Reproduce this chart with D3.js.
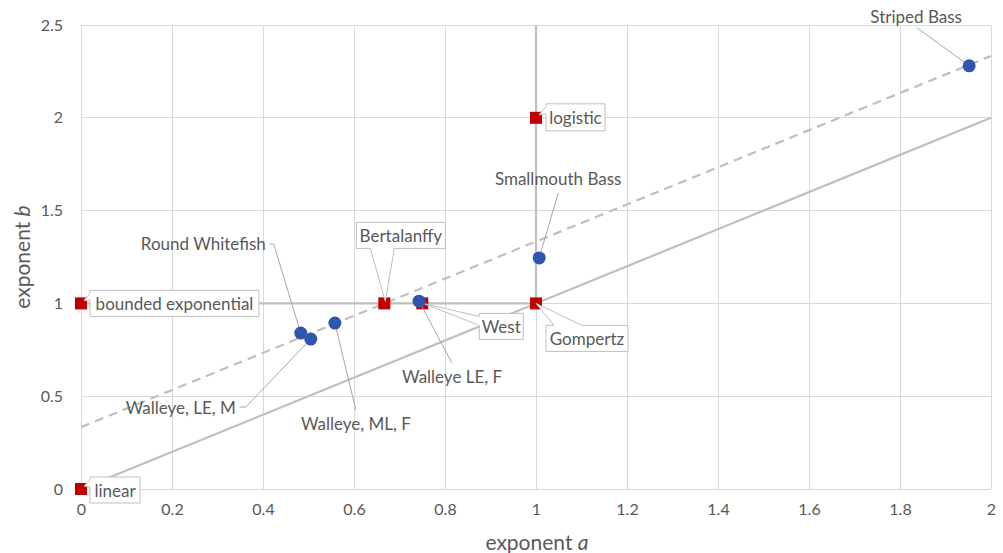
<!DOCTYPE html>
<html><head><meta charset="utf-8">
<script src="https://cdn.jsdelivr.net/npm/d3@7"></script>
<style>body{margin:0;background:#fff}svg{display:block}</style>
</head><body><svg id="c" width="1003" height="553"></svg>
<script>
// ---- data ----
const modelNames = ["linear", "bounded exponential", "Bertalanffy", "West", "Gompertz", "logistic"];
const modelA = [0, 0, 2/3, 0.75, 1, 1];
const modelB = [0, 1, 1, 1, 1, 2];

const fishNames = ["Round Whitefish", "Walleye, LE, M", "Walleye, ML, F", "Walleye LE, F", "Smallmouth Bass", "Striped Bass"];
const fishA = [0.483, 0.505, 0.558, 0.743, 1.007, 1.952];
const fishB = [0.84, 0.808, 0.894, 1.012, 1.245, 2.28];

const xTicks = [0, 0.2, 0.4, 0.6, 0.8, 1, 1.2, 1.4, 1.6, 1.8, 2];
const xTickLabels = ["0", "0.2", "0.4", "0.6", "0.8", "1", "1.2", "1.4", "1.6", "1.8", "2"];
const yTicks = [0, 0.5, 1, 1.5, 2, 2.5];
const yTickLabels = ["0", "0.5", "1", "1.5", "2", "2.5"];

// reference curves (in data units)
const diagLine = [[0, 0], [2, 2]];
const dashLine = [[0, 1/3], [2, 2 + 1/3]];
const hLine = [[0, 1], [1, 1]];
const vLine = [[1, 1], [1, 2.5]];

// ---- layout (pixel offsets, not data) ----
const calloutLayout = {
  "linear":              {dx: 9,   dy: -12, w: 50,  h: 26, side: "left",   b1: 3,  b2: 10, tx: 3, ty: -3},
  "bounded exponential": {dx: 9,   dy: -13, w: 169, h: 26, side: "left",   b1: 3,  b2: 10, tx: 3, ty: -3},
  "Bertalanffy":         {dx: -28, dy: -81, w: 89,  h: 26, side: "bottom", b1: 14, b2: 38, tx: 1, ty: -2},
  "West":                {dx: 57,  dy: 10,  w: 44,  h: 26, side: "left",   b1: 3,  b2: 12, tx: 1, ty: 0},
  "Gompertz":            {dx: 10,  dy: 22,  w: 82,  h: 26, side: "top",    b1: 8,  b2: 36, tx: 0, ty: 0},
  "logistic":            {dx: 10,  dy: -14, w: 59,  h: 27, side: "left",   b1: 3,  b2: 10, tx: 3, ty: -3}
};
// fish label: text anchor position offset from point; leader start offsets
const fishLayout = {
  "Round Whitefish": {tx: -35,  ty: -90, anchor: "end",    lx: [-31, -27], ly: -89},
  "Walleye, LE, M":  {tx: -75,  ty: 68,  anchor: "end",    lx: [-71, -65], ly: 68},
  "Walleye, ML, F":  {tx: 21,   ty: 100, anchor: "middle", lx: [21], ly: 87},
  "Walleye LE, F":   {tx: 33,   ty: 75,  anchor: "middle", lx: [33], ly: 62},
  "Smallmouth Bass": {tx: 19,   ty: -79, anchor: "middle", lx: [19], ly: -65},
  "Striped Bass":    {tx: -53,  ty: -49, anchor: "middle", lx: [-52], ly: -38}
};

const svg = d3.select("#c").style("font-family", "Lato, 'Liberation Sans', sans-serif");
const x = d3.scaleLinear().domain([0, 2]).range([81, 991]);
const y = d3.scaleLinear().domain([0, 2.5]).range([489, 25]);
const txt = "#595959", grid = "#d9d9d9", ref = "#bfbfbf";

// gridlines
svg.append("g").selectAll("line").data(xTicks).join("line")
  .attr("x1", d => x(d)).attr("x2", d => x(d)).attr("y1", y(0)).attr("y2", y(2.5))
  .attr("stroke", grid).attr("stroke-width", 1).attr("shape-rendering", "crispEdges");
svg.append("g").selectAll("line").data(yTicks).join("line")
  .attr("y1", d => y(d)).attr("y2", d => y(d)).attr("x1", x(0)).attr("x2", x(2))
  .attr("stroke", grid).attr("stroke-width", 1).attr("shape-rendering", "crispEdges");

// axes (labels only)
const xa = svg.append("g").attr("transform", `translate(0,${y(0)})`)
  .call(d3.axisBottom(x).tickValues(xTicks).tickFormat((d, i) => xTickLabels[i]).tickSize(0).tickPadding(15));
const ya = svg.append("g").attr("transform", `translate(${x(0)},0)`)
  .call(d3.axisLeft(y).tickValues(yTicks).tickFormat((d, i) => yTickLabels[i]).tickSize(0).tickPadding(18));
[xa, ya].forEach(g => {
  g.select(".domain").remove();
  g.selectAll("text").attr("fill", txt).style("font-size", "16px").style("font-family", "Lato, sans-serif");
});

// reference lines
const line = d3.line().x(d => x(d[0])).y(d => y(d[1]));
svg.append("path").attr("d", line(diagLine)).attr("stroke", ref).attr("stroke-width", 2.2).attr("fill", "none");
svg.append("path").attr("d", line(dashLine)).attr("stroke", ref).attr("stroke-width", 2.2).attr("fill", "none").attr("stroke-dasharray", "9,6");
svg.append("path").attr("d", line(hLine)).attr("stroke", ref).attr("stroke-width", 2.2).attr("fill", "none");
svg.append("path").attr("d", line(vLine)).attr("stroke", ref).attr("stroke-width", 2.2).attr("fill", "none");

// model markers
const models = modelNames.map((n, i) => ({name: n, a: modelA[i], b: modelB[i]}));
svg.append("g").selectAll("rect").data(models).join("rect")
  .attr("x", d => x(d.a) - 6).attr("y", d => y(d.b) - 6).attr("width", 12).attr("height", 12)
  .attr("fill", "#c00000");

// callouts
function calloutPath(px, py, L) {
  const x0 = px + L.dx, y0 = py + L.dy, x1 = x0 + L.w, y1 = y0 + L.h;
  const tx = px + L.tx, ty = py + L.ty;
  const p = [];
  p.push([x0, y0]);
  if (L.side === "top") { p.push([x0 + L.b1, y0], [tx, ty], [x0 + L.b2, y0]); }
  p.push([x1, y0], [x1, y1]);
  if (L.side === "bottom") { p.push([x0 + L.b2, y1], [tx, ty], [x0 + L.b1, y1]); }
  p.push([x0, y1]);
  if (L.side === "left") { p.push([x0, y0 + L.b2], [tx, ty], [x0, y0 + L.b1]); }
  return "M" + p.map(q => q.join(",")).join("L") + "Z";
}
const cg = svg.append("g").selectAll("g").data(models).join("g");
cg.append("path")
  .attr("d", d => calloutPath(x(d.a), y(d.b), calloutLayout[d.name]))
  .attr("fill", "#fff").attr("stroke", ref).attr("stroke-width", 1);
cg.append("text")
  .attr("x", d => x(d.a) + calloutLayout[d.name].dx + calloutLayout[d.name].w / 2)
  .attr("y", d => y(d.b) + calloutLayout[d.name].dy + calloutLayout[d.name].h / 2)
  .attr("text-anchor", "middle").attr("dominant-baseline", "central")
  .attr("fill", txt).style("font-size", "17px")
  .text(d => d.name);

// fish leader lines
const fish = fishNames.map((n, i) => ({name: n, a: fishA[i], b: fishB[i]}));
svg.append("g").selectAll("path").data(fish).join("path")
  .attr("d", d => {
    const L = fishLayout[d.name], px = x(d.a), py = y(d.b);
    const pts = L.lx.map(v => [px + v, py + L.ly]);
    pts.push([px, py]);
    return "M" + pts.map(q => q.join(",")).join("L");
  })
  .attr("fill", "none").attr("stroke", "#a6a6a6").attr("stroke-width", 1);

// fish points
svg.append("g").selectAll("circle").data(fish).join("circle")
  .attr("cx", d => x(d.a)).attr("cy", d => y(d.b)).attr("r", 6.5)
  .attr("fill", "#2f55b0");

// fish labels
svg.append("g").selectAll("text").data(fish).join("text")
  .attr("x", d => x(d.a) + fishLayout[d.name].tx)
  .attr("y", d => y(d.b) + fishLayout[d.name].ty)
  .attr("text-anchor", d => fishLayout[d.name].anchor).attr("dominant-baseline", "central")
  .attr("fill", txt).style("font-size", "17px")
  .text(d => d.name);

// axis titles
const xt = svg.append("text").attr("x", 537).attr("y", 541).attr("text-anchor", "middle")
  .attr("dominant-baseline", "central").attr("fill", txt).style("font-size", "21px");
xt.append("tspan").text("exponent ");
xt.append("tspan").style("font-style", "italic").text("a");
const yt = svg.append("text").attr("transform", "translate(21,257) rotate(-90)").attr("text-anchor", "middle")
  .attr("dominant-baseline", "central").attr("fill", txt).style("font-size", "21px");
yt.append("tspan").text("exponent ");
yt.append("tspan").style("font-style", "italic").text("b");
</script></body></html>
